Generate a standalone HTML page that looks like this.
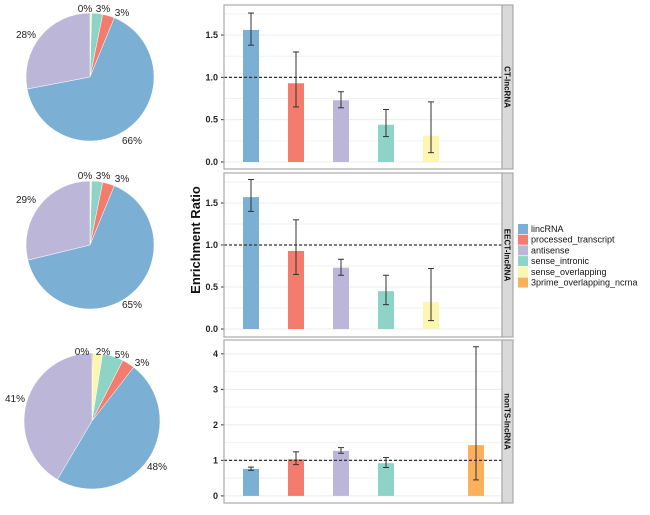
<!DOCTYPE html>
<html><head><meta charset="utf-8"><style>
body{margin:0;background:#fff;width:650px;height:510px;overflow:hidden}
svg{font-family:"Liberation Sans",sans-serif}
</style></head><body>
<svg id="c" width="650" height="510" xmlns="http://www.w3.org/2000/svg"></svg>
<script>
const categories=["lincRNA","processed_transcript","antisense","sense_intronic","sense_overlapping","3prime_overlapping_ncrna"];
const colors=["#7bafd4","#f47c6e","#bcb7d9","#8dd3c6","#fbf6b0","#fbb15c"];
const facetNames=["CT-lncRNA","EECT-lncRNA","nonTS-lncRNA"];
const ctValues=[1.56,0.93,0.73,0.44,0.31,null];
const ctLow=[1.38,0.65,0.64,0.30,0.11,null];
const ctHigh=[1.76,1.30,0.83,0.62,0.71,null];
const eectValues=[1.57,0.93,0.73,0.45,0.32,null];
const eectLow=[1.40,0.65,0.64,0.29,0.10,null];
const eectHigh=[1.78,1.30,0.83,0.64,0.72,null];
const nontsValues=[0.76,1.03,1.27,0.92,null,1.43];
const nontsLow=[0.72,0.88,1.20,0.80,null,0.45];
const nontsHigh=[0.81,1.24,1.36,1.08,null,4.20];
const ctTicks=["0.0","0.5","1.0","1.5"];
const nontsTicks=["0","1","2","3","4"];
const ctPie=[0.4,2.8,3.0,65.8,28.0];
const ctPieLabels=["0%","3%","3%","66%","28%"];
const eectPie=[0.4,2.8,3.0,65.0,28.8];
const eectPieLabels=["0%","3%","3%","65%","29%"];
const nontsPie=[0.3,2.2,5.0,3.0,48.0,41.5];
const nontsPieLabels=["0%","2%","5%","3%","48%","41%"];

const svg=document.getElementById('c');
const NS="http://www.w3.org/2000/svg";
function mk(tag,attrs,parent){const e=document.createElementNS(NS,tag);for(const k in attrs)e.setAttribute(k,attrs[k]);(parent||svg).appendChild(e);return e;}

const panels=[
 {vals:ctValues,lo:ctLow,hi:ctHigh,ticks:ctTicks,top:5,bot:169,ymin:-0.083,ymax:1.855,minor:[0.25,0.75,1.25,1.75]},
 {vals:eectValues,lo:eectLow,hi:eectHigh,ticks:ctTicks,top:173,bot:337,ymin:-0.095,ymax:1.857,minor:[0.25,0.75,1.25,1.75]},
 {vals:nontsValues,lo:nontsLow,hi:nontsHigh,ticks:nontsTicks,top:340,bot:503,ymin:-0.2,ymax:4.39,minor:[0.5,1.5,2.5,3.5]}
];
const L=224,R=502,SW=11;
const xc=i=>251+i*45;
panels.forEach((p,pi)=>{
 const y=v=>p.bot-(v-p.ymin)/(p.ymax-p.ymin)*(p.bot-p.top);
 const g=mk('g',{});
 
 
 p.minor.forEach(v=>mk('line',{x1:L,x2:R,y1:y(v),y2:y(v),stroke:'#f2f2f2','stroke-width':1},g));
 p.ticks.forEach(t=>{const v=parseFloat(t);
  mk('line',{x1:L,x2:R,y1:y(v),y2:y(v),stroke:'#ececec','stroke-width':1},g);
  const tx=mk('text',{x:L-6,y:y(v)+3,'text-anchor':'end','font-size':9,'font-weight':'bold',fill:'#222'},g);tx.textContent=t;
  
  mk('line',{x1:L-3,x2:L,y1:y(v),y2:y(v),stroke:'#333'},g);
 });
 p.vals.forEach((v,i)=>{ if(v==null)return;
  const b=mk('rect',{x:xc(i)-8,y:y(v),width:16,height:y(0)-y(v),fill:colors[i]},g);
  
 });
 mk('line',{x1:L,x2:R,y1:y(1),y2:y(1),stroke:'#333','stroke-width':1.2,'stroke-dasharray':'3,2'},g);
 p.vals.forEach((v,i)=>{ if(v==null)return;
  const eg=mk('g',{stroke:'#333','stroke-width':1},g);
  
  mk('line',{x1:xc(i),x2:xc(i),y1:y(p.lo[i]),y2:y(p.hi[i])},eg);
  mk('line',{x1:xc(i)-3,x2:xc(i)+3,y1:y(p.lo[i]),y2:y(p.lo[i])},eg);
  mk('line',{x1:xc(i)-3,x2:xc(i)+3,y1:y(p.hi[i]),y2:y(p.hi[i])},eg);
 });
 mk('rect',{x:L,y:p.top,width:R-L,height:p.bot-p.top,fill:'none',stroke:'#aaa','stroke-width':1.2},g);
 const s=mk('rect',{x:R,y:p.top,width:SW,height:p.bot-p.top,fill:'#d9d9d9',stroke:'#aaa','stroke-width':1.2},g);
 
 const cy=(p.top+p.bot)/2;
 const st=mk('text',{x:R+SW/2,y:cy,'text-anchor':'middle','font-size':8,'font-weight':'bold',fill:'#111',transform:`rotate(90 ${R+SW/2} ${cy}) translate(0 3)`},g);
 st.textContent=facetNames[pi];
});
const yt=mk('text',{x:200,y:240,'text-anchor':'middle','font-size':13,'font-weight':'bold',fill:'#111',transform:'rotate(-90 200 240)'});
yt.textContent='Enrichment Ratio';

categories.forEach((c,i)=>{
 const g=mk('g',{});
 
 const ly=224+i*10.7;
 mk('rect',{x:518,y:ly,width:10,height:10,fill:colors[i]},g);
 const t=mk('text',{x:531,y:ly+8,'font-size':9,fill:'#111'},g);t.textContent=c;
});

const pies=[
 {data:ctPie,labels:ctPieLabels,cols:[colors[4],colors[3],colors[1],colors[0],colors[2]],cx:90,cy:77,r:64,lpos:[[85,12],[103,12],[122,16],[132,144],[26,38]]},
 {data:eectPie,labels:eectPieLabels,cols:[colors[4],colors[3],colors[1],colors[0],colors[2]],cx:90,cy:245,r:64,lpos:[[85,179],[103,179],[122,182],[132,308],[26,203]]},
 {data:nontsPie,labels:nontsPieLabels,cols:[colors[5],colors[4],colors[3],colors[1],colors[0],colors[2]],cx:92,cy:421,r:68,lpos:[[82,355],[103,355],[122,358],[142,366],[157,470],[15,402]]}
];
pies.forEach((p,pi)=>{
 const g=mk('g',{});
 
 const tot=p.data.reduce((a,b)=>a+b,0);let a=0;
 p.data.forEach((v,i)=>{
  const a0=a/tot*2*Math.PI,a1=(a+v)/tot*2*Math.PI;a+=v;
  const x0=p.cx+p.r*Math.sin(a0),y0=p.cy-p.r*Math.cos(a0),x1=p.cx+p.r*Math.sin(a1),y1=p.cy-p.r*Math.cos(a1);
  const path=mk('path',{d:`M${p.cx},${p.cy}L${x0},${y0}A${p.r},${p.r} 0 ${(a1-a0)>Math.PI?1:0} 1 ${x1},${y1}Z`,fill:p.cols[i],stroke:'#fff','stroke-width':0.5},g);
  
 });
 p.labels.forEach((l,i)=>{
  const t=mk('text',{x:p.lpos[i][0],y:p.lpos[i][1],'font-size':10,fill:'#222','text-anchor':'middle'},g);t.textContent=l;
  
 });
});
</script>
</body></html>
